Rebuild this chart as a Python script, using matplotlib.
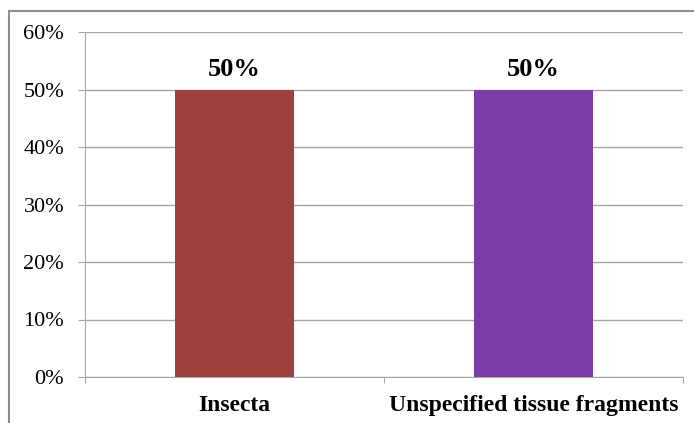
import matplotlib
matplotlib.use("Agg")
import matplotlib.pyplot as plt
from matplotlib.patches import Rectangle
from matplotlib.ticker import FuncFormatter

categories = ["Insecta", "Unspecified tissue fragments"]
values = [50, 50]
colors = ["#9E413E", "#7B3CA8"]
yticks = [0, 10, 20, 30, 40, 50, 60]

W, H = 694, 423
fig = plt.figure(figsize=(W / 100, H / 100), dpi=100)
plt.rcParams["font.family"] = ["Liberation Serif", "DejaVu Serif"]

# outer chart frame
fig.patches.append(Rectangle((8.5 / W, -0.2), 1.2, 1.2 - 10.5 / H,
                             transform=fig.transFigure, fill=False,
                             edgecolor="#8C8C8C", linewidth=1.5, zorder=0))

ax = fig.add_axes([85 / W, 1 - 377 / H, (683 - 85) / W, (377 - 32) / H])
x = list(range(len(categories)))
ax.bar(x, values, width=0.4, color=colors, zorder=3)
ax.set_xlim(-0.5, len(categories) - 0.5)
ax.set_ylim(0, 60)
ax.set_yticks(yticks)
ax.yaxis.set_major_formatter(FuncFormatter(lambda v, p: f"{v:.0f}%"))
ax.grid(axis="y", color="#A6A6A6", linewidth=1, zorder=0)
ax.set_axisbelow(True)

for s in ["top", "right"]:
    ax.spines[s].set_visible(False)
ax.spines["left"].set_color("#A6A6A6")
ax.spines["bottom"].set_color("#A6A6A6")
ax.tick_params(axis="y", length=5, color="#A6A6A6", labelsize=16, pad=10)

# category boundary ticks on the x axis
ax.set_xticks([i - 0.5 for i in range(len(categories) + 1)])
ax.set_xticklabels([])
ax.tick_params(axis="x", length=4, color="#A6A6A6")
for i, c in enumerate(categories):
    ax.annotate(c, (i, 0), xytext=(0, -24.5), textcoords="offset points",
                ha="center", va="baseline", fontsize=17, fontweight="bold")

for i, v in enumerate(values):
    ax.annotate(f"{v}%", (i, v), xytext=(0, 9.5), textcoords="offset points",
                ha="center", va="baseline", fontsize=19, fontweight="bold")

fig.savefig("out.png", dpi=100)
